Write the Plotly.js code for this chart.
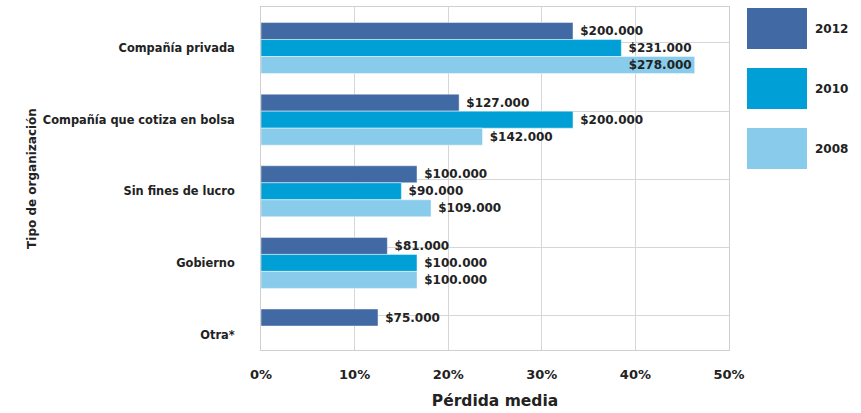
<!DOCTYPE html>
<html>
<head>
<meta charset="utf-8">
<script src="https://cdn.plot.ly/plotly-3.0.1.min.js"></script>
<style>html,body{margin:0;padding:0;background:#fff;}#chart{width:861px;height:413px;}</style>
</head>
<body>
<div id="chart"></div>
<script>
// ---- data ----
const categories = ["Compañía privada", "Compañía que cotiza en bolsa", "Sin fines de lucro", "Gobierno", "Otra*"];
const years = ["2012", "2010", "2008"];
const values2012 = [200000, 127000, 100000, 81000, 75000];
const values2010 = [231000, 200000, 90000, 100000, null];
const values2008 = [278000, 142000, 109000, 100000, null];
const tickValues = [0, 60000, 120000, 180000, 240000, 300000];
const tickLabels = ["0%", "10%", "20%", "30%", "40%", "50%"];

const colors = ["#4169a3", "#00a0d7", "#88cbeb"];
const series = [values2012, values2010, values2008];
const FONT = "DejaVu Sans, Verdana, sans-serif";
const TXT = "#222222";

const traces = series.map((vals, i) => {
  const pos = vals.map((v, j) => (i === 2 && j === 0) ? "inside" : "outside");
  return {
    type: "bar",
    orientation: "h",
    name: years[i],
    legendgroup: years[i],
    y: categories,
    x: vals,
    marker: {color: colors[i], line: {color: "rgba(255,255,255,0.45)", width: 1}},
    texttemplate: " $%{x:,.0f}",
    textposition: pos,
    insidetextanchor: "end",
    textangle: 0,
    constraintext: "none",
    cliponaxis: false,
    textfont: {family: FONT, size: 12, color: TXT, weight: "bold"},
    insidetextfont: {family: FONT, size: 12, color: TXT, weight: "bold"},
    outsidetextfont: {family: FONT, size: 12, color: TXT, weight: "bold"},
    hoverinfo: "skip"
  };
});
// helper trace (no visible marks) that carries the category gridlines of the original
traces.push({
  type: "scatter", mode: "none", x: categories.map(() => null), y: categories,
  yaxis: "y2", showlegend: false, hoverinfo: "skip"
});

const layout = {
  width: 861, height: 413,
  margin: {l: 261, r: 132, t: 7, b: 63},
  paper_bgcolor: "#ffffff",
  plot_bgcolor: "#ffffff",
  separators: ",.",
  barmode: "group",
  bargap: 0.288,
  bargroupgap: 0,
  font: {family: FONT, color: TXT},
  xaxis: {
    range: [0, 300000],
    tickvals: tickValues,
    ticktext: tickLabels,
    showgrid: true, gridcolor: "#d6d6d6", gridwidth: 1,
    zeroline: false,
    showline: true, mirror: true, linecolor: "#d0d0d0", linewidth: 1,
    ticks: "", ticklabelstandoff: 12,
    tickfont: {family: FONT, size: 13, color: TXT, weight: "bold"},
    title: {text: "Pérdida media", font: {family: FONT, size: 15.5, color: TXT, weight: "bold"}, standoff: 14}
  },
  yaxis: {
    type: "category",
    range: [4.216, -0.573],
    showgrid: false,
    zeroline: false,
    showline: true, mirror: true, linecolor: "#d0d0d0", linewidth: 1,
    ticks: "", ticklabelstandoff: 23,
    tickfont: {family: FONT, size: 11.4, color: TXT, weight: "bold"},
    title: {text: "Tipo de organización", font: {family: FONT, size: 12, color: TXT, weight: "bold"}, standoff: 3}
  },
  yaxis2: {
    type: "category",
    overlaying: "y",
    side: "left",
    range: [4.5, -0.523],
    showgrid: true, gridcolor: "#d6d6d6", gridwidth: 1,
    showticklabels: false, ticks: "", zeroline: false, showline: false,
    layer: "below traces"
  },
  showlegend: true,
  legend: {
    xref: "container", yref: "container",
    x: 739 / 861, y: 1 - 14 / 413,
    xanchor: "left", yanchor: "top",
    traceorder: "grouped",
    tracegroupgap: 41,
    itemwidth: 66,
    bgcolor: "rgba(0,0,0,0)",
    font: {family: FONT, size: 12, color: TXT, weight: "bold"}
  }
};

function bigSwatches(gd) {
  gd.querySelectorAll(".legend .legendpoints path").forEach(p => {
    p.setAttribute("d", "M30,20.5H-30V-20.5H30Z");
    p.style.strokeWidth = "0px";
  });
  gd.querySelectorAll(".legend .scrollbox, .legend").forEach(g => g.removeAttribute("clip-path"));
}

Plotly.newPlot("chart", traces, layout, {staticPlot: true, displayModeBar: false}).then(gd => {
  bigSwatches(gd);
  setTimeout(() => bigSwatches(gd), 50);
  gd.on("plotly_afterplot", () => bigSwatches(gd));
});
</script>
</body>
</html>
